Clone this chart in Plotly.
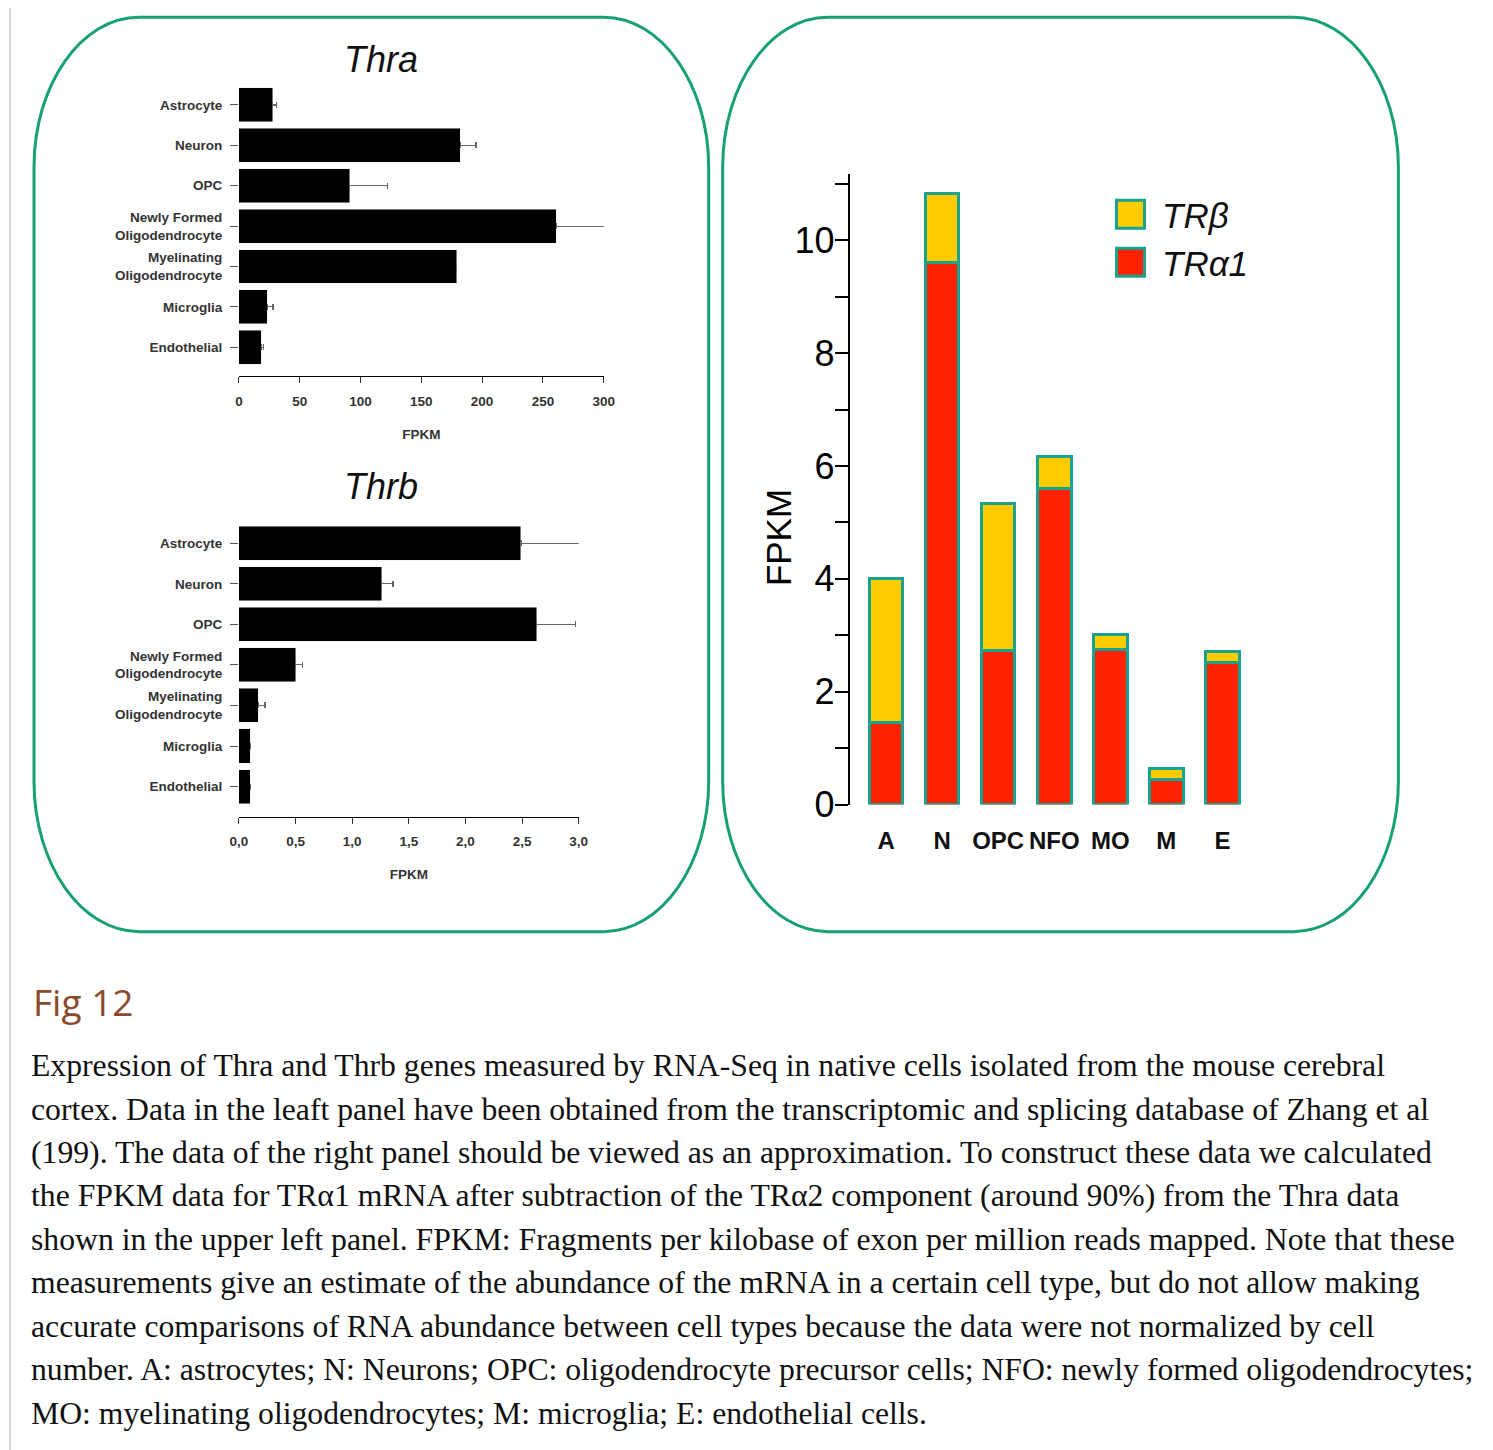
import plotly.graph_objects as go

# ---------------- data ----------------
cell_types = ["Astrocyte", "Neuron", "OPC", "Newly Formed<br>Oligodendrocyte",
              "Myelinating<br>Oligodendrocyte", "Microglia", "Endothelial"]
thra_fpkm = [27.7, 182, 91, 261, 179, 23.5, 18.5]
thra_err = [3.5, 13, 31, 60, 0, 4.5, 2]
thra_ticks = [0, 50, 100, 150, 200, 250, 300]

thrb_fpkm = [2.49, 1.26, 2.63, 0.50, 0.17, 0.10, 0.10]
thrb_err = [0.75, 0.10, 0.34, 0.06, 0.06, 0.0, 0.0]
thrb_tickvals = [0, 0.5, 1.0, 1.5, 2.0, 2.5, 3.0]
thrb_ticktext = ["0,0", "0,5", "1,0", "1,5", "2,0", "2,5", "3,0"]

short_types = ["A", "N", "OPC", "NFO", "MO", "M", "E"]
tra1_fpkm = [1.45, 9.6, 2.73, 5.6, 2.74, 0.45, 2.52]
trb_fpkm = [2.55, 1.23, 2.61, 0.57, 0.27, 0.19, 0.20]
right_major = [0, 2, 4, 6, 8, 10]
right_minor = [1, 3, 5, 7, 9, 11]

caption_lines = [
    "Expression of Thra and Thrb genes measured by RNA-Seq in native cells isolated from the mouse cerebral",
    "cortex. Data in the leaft panel have been obtained from the transcriptomic and splicing database of Zhang et al",
    "(199). The data of the right panel should be viewed as an approximation. To construct these data we calculated",
    "the FPKM data for TR\u03b11 mRNA after subtraction of the TR\u03b12 component (around 90%) from the Thra data",
    "shown in the upper left panel. FPKM: Fragments per kilobase of exon per million reads mapped. Note that these",
    "measurements give an estimate of the abundance of the mRNA in a certain cell type, but do not allow making",
    "accurate comparisons of RNA abundance between cell types because the data were not normalized by cell",
    "number. A: astrocytes; N: Neurons; OPC: oligodendrocyte precursor cells; NFO: newly formed oligodendrocytes;",
    "MO: myelinating oligodendrocytes; M: microglia; E: endothelial cells.",
]

# ---------------- geometry helpers (target picture pixels -> paper) ----------------
W, H = 1488, 1445
AX, BX = 0.987, 16.0
AY, BY = 0.985, 8.8


def PX(x):
    return ((x - BX) / AX) / W


def PY(y):
    return 1 - ((y - BY) / AY) / H


def rrect_path(x0, y0, x1, y1, rx, ry, k=0.55):
    pts = []

    def p(x, y):
        return f"{PX(x):.5f},{PY(y):.5f}"
    pts.append("M" + p(x0 + rx, y0))
    pts.append("L" + p(x1 - rx, y0))
    pts.append("C" + p(x1 - rx + k * rx, y0) + " " + p(x1, y0 + ry - k * ry) + " " + p(x1, y0 + ry))
    pts.append("L" + p(x1, y1 - ry))
    pts.append("C" + p(x1, y1 - ry + k * ry) + " " + p(x1 - rx + k * rx, y1) + " " + p(x1 - rx, y1))
    pts.append("L" + p(x0 + rx, y1))
    pts.append("C" + p(x0 + rx - k * rx, y1) + " " + p(x0, y1 - ry + k * ry) + " " + p(x0, y1 - ry))
    pts.append("L" + p(x0, y0 + ry))
    pts.append("C" + p(x0, y0 + ry - k * ry) + " " + p(x0 + rx - k * rx, y0) + " " + p(x0 + rx, y0))
    pts.append("Z")
    return " ".join(pts)


FRAME = "#17a077"
BORDER = "#19a38f"
SANS = "Liberation Sans, Arial, sans-serif"
small_font = dict(family=SANS, size=13.5, color="#333", weight="bold")

fig = go.Figure()

fig.add_trace(go.Bar(
    y=cell_types, x=thra_fpkm, orientation="h", xaxis="x", yaxis="y",
    marker=dict(color="black"), width=0.84, showlegend=False,
    error_x=dict(type="data", symmetric=False, array=thra_err, arrayminus=[0] * len(thra_err),
                 color="#666", thickness=1.2, width=3),
))
fig.add_trace(go.Bar(
    y=cell_types, x=thrb_fpkm, orientation="h", xaxis="x2", yaxis="y2",
    marker=dict(color="black"), width=0.84, showlegend=False,
    error_x=dict(type="data", symmetric=False, array=thrb_err, arrayminus=[0] * len(thrb_err),
                 color="#666", thickness=1.2, width=3),
))
fig.add_trace(go.Bar(
    x=short_types, y=tra1_fpkm, xaxis="x3", yaxis="y3", name="TR\u03b11",
    marker=dict(color="#ff2200", line=dict(color=BORDER, width=3)), width=0.6, showlegend=False,
))
fig.add_trace(go.Bar(
    x=short_types, y=trb_fpkm, xaxis="x3", yaxis="y3", name="TR\u03b2",
    marker=dict(color="#ffcc00", line=dict(color=BORDER, width=3)), width=0.6, showlegend=False,
))

left_x = dict(showgrid=False, zeroline=False, showline=True, linecolor="black", linewidth=1.2,
              ticks="outside", ticklen=6, tickwidth=1, tickcolor="#333", tickfont=small_font,
              ticklabelstandoff=6)
left_y = dict(showgrid=False, zeroline=False, showline=False, ticks="outside", ticklen=8,
              tickwidth=1, tickcolor="#555", tickfont=small_font, type="category",
              ticklabelstandoff=5)

fig.update_layout(
    width=W, height=H, autosize=False,
    margin=dict(l=0, r=0, t=0, b=0),
    paper_bgcolor="white", plot_bgcolor="rgba(0,0,0,0)",
    barmode="stack",
    xaxis=dict(domain=[PX(238), PX(603)], range=[0, 300], tickvals=thra_ticks, anchor="y",
               title=dict(text="FPKM", font=small_font, standoff=21), **left_x),
    yaxis=dict(domain=[PY(377), PY(85.5)], range=[6.72, -0.5], anchor="x", **left_y),
    xaxis2=dict(domain=[PX(238), PX(578)], range=[0, 3.0], tickvals=thrb_tickvals,
                ticktext=thrb_ticktext, anchor="y2",
                title=dict(text="FPKM", font=small_font, standoff=21), **left_x),
    yaxis2=dict(domain=[PY(817), PY(523.5)], range=[6.74, -0.5], anchor="x2", **left_y),
    xaxis3=dict(domain=[PX(849), PX(1250)], range=[-0.65, 6.5], anchor="y3", type="category",
                showgrid=False, zeroline=False, showline=False, ticks="",
                tickfont=dict(family=SANS, size=24, color="#111", weight="bold"),
                ticklabelstandoff=19),
    yaxis3=dict(domain=[PY(805), PY(175)], range=[0, 11.17], anchor="x3",
                showgrid=False, zeroline=False, showline=True, linecolor="black", linewidth=2,
                tickvals=right_major, ticks="outside", ticklen=13, tickwidth=2, tickcolor="black",
                minor=dict(tickvals=right_minor, ticks="outside", ticklen=13, tickwidth=2,
                           tickcolor="black"),
                tickfont=dict(family=SANS, size=36, color="black"),
                ticklabelstandoff=-7),
)

shapes = [
    dict(type="path", xref="paper", yref="paper", path=rrect_path(33, 18, 708, 932, 105, 150),
         line=dict(color=FRAME, width=3), fillcolor="rgba(0,0,0,0)", layer="below"),
    dict(type="path", xref="paper", yref="paper", path=rrect_path(722, 18, 1398, 932, 105, 150),
         line=dict(color=FRAME, width=3), fillcolor="rgba(0,0,0,0)", layer="below"),
    dict(type="line", xref="paper", yref="paper", x0=PX(9), x1=PX(9), y0=PY(0), y1=PY(1450),
         line=dict(color="#d8d8d8", width=2)),
    # legend swatches
    dict(type="rect", xref="paper", yref="paper", x0=PX(1116), x1=PX(1144), y0=PY(229), y1=PY(201),
         fillcolor="#ffcc00", line=dict(color=BORDER, width=3)),
    dict(type="rect", xref="paper", yref="paper", x0=PX(1116), x1=PX(1144), y0=PY(277), y1=PY(249),
         fillcolor="#ff2200", line=dict(color=BORDER, width=3)),
]

title_font = dict(family="Liberation Sans Narrow, Liberation Sans, Arial", size=36, color="#111",
                  style="italic")
annotations = [
    dict(text="Thra", x=PX(380), y=PY(60), xref="paper", yref="paper", showarrow=False,
         xanchor="center", yanchor="middle", font=title_font),
    dict(text="Thrb", x=PX(380), y=PY(487), xref="paper", yref="paper", showarrow=False,
         xanchor="center", yanchor="middle", font=title_font),
    dict(text="FPKM", x=PX(778), y=PY(538), xref="paper", yref="paper", showarrow=False,
         xanchor="center", yanchor="middle", textangle=-90,
         font=dict(family=SANS, size=35, color="black")),
    dict(text="TR\u03b2", x=PX(1160), y=PY(216), xref="paper", yref="paper", showarrow=False,
         xanchor="left", yanchor="middle",
         font=dict(family=SANS, size=35, color="#111", style="italic")),
    dict(text="TR\u03b11", x=PX(1160), y=PY(264), xref="paper", yref="paper", showarrow=False,
         xanchor="left", yanchor="middle",
         font=dict(family=SANS, size=35, color="#111", style="italic")),
    dict(text="Fig 12", x=PX(30), y=PY(1002), xref="paper", yref="paper", showarrow=False,
         xanchor="left", yanchor="middle",
         font=dict(family="Open Sans, Noto Sans, sans-serif", size=37, color="#8b4a2b")),
]

line_y0 = 1066
line_step = 43.4
for i, line in enumerate(caption_lines):
    annotations.append(dict(
        text=line, x=PX(28), y=PY(line_y0 + i * line_step), xref="paper", yref="paper",
        showarrow=False, xanchor="left", yanchor="middle",
        font=dict(family="Liberation Serif, Times New Roman, serif", size=31.7, color="#111"),
    ))

fig.update_layout(shapes=shapes, annotations=annotations)

fig.write_html("out.html")
